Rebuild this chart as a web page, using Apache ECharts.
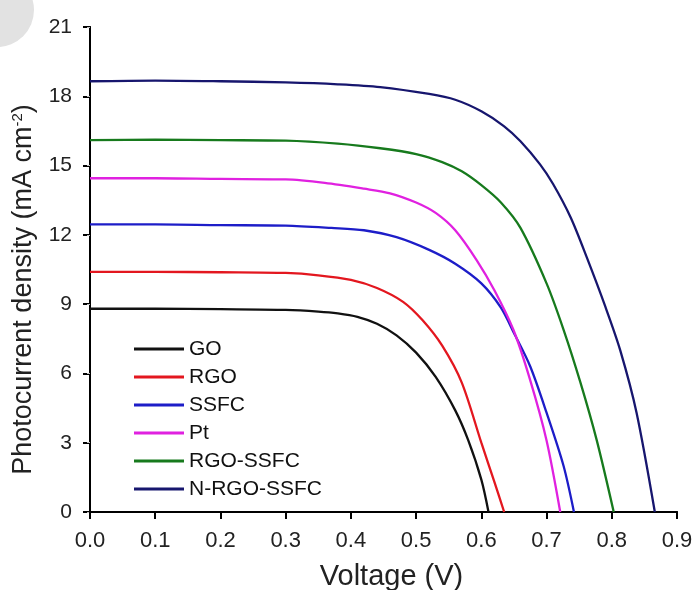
<!DOCTYPE html>
<html>
<head>
<meta charset="utf-8">
<script src="https://cdn.jsdelivr.net/npm/echarts@6/dist/echarts.min.js"></script>
<style>
  html, body { margin: 0; padding: 0; background: #fff; }
  #chart { width: 692px; height: 590px; }
</style>
</head>
<body>
<div id="chart"></div>
<script>
// J-V curves
var names = ['GO', 'RGO', 'SSFC', 'Pt', 'RGO-SSFC', 'N-RGO-SSFC'];
var colors = ['#111111', '#e3171f', '#1d1dc8', '#e021e0', '#177a1d', '#17166e'];

var goV = [0, 0.1, 0.2, 0.3, 0.35, 0.38, 0.41, 0.44, 0.47, 0.5, 0.53, 0.56, 0.58, 0.6, 0.611];
var goJ = [8.8, 8.8, 8.78, 8.75, 8.68, 8.6, 8.45, 8.15, 7.65, 6.9, 5.85, 4.4, 3.1, 1.4, 0];

var rgoV = [0, 0.1, 0.2, 0.3, 0.35, 0.4, 0.44, 0.48, 0.51, 0.54, 0.57, 0.6, 0.62, 0.635];
var rgoJ = [10.4, 10.4, 10.38, 10.35, 10.25, 10.05, 9.7, 9.1, 8.3, 7.2, 5.6, 3.0, 1.3, 0];

var ssfcV = [0, 0.1, 0.2, 0.3, 0.37, 0.42, 0.47, 0.52, 0.56, 0.6, 0.63, 0.65, 0.675, 0.7, 0.726, 0.742];
var ssfcJ = [12.45, 12.45, 12.42, 12.4, 12.3, 12.2, 11.9, 11.35, 10.75, 9.9, 8.85, 7.75, 6.3, 4.3, 2.0, 0];

var ptV = [0, 0.1, 0.2, 0.3, 0.36, 0.42, 0.46, 0.5, 0.53, 0.56, 0.593, 0.62, 0.649, 0.675, 0.7, 0.721];
var ptJ = [14.45, 14.45, 14.42, 14.4, 14.25, 14.0, 13.8, 13.4, 12.95, 12.2, 10.9, 9.6, 7.9, 5.7, 3.1, 0];

var rgoSsfcV = [0, 0.1, 0.2, 0.3, 0.38, 0.445, 0.5, 0.54, 0.57, 0.6, 0.63, 0.66, 0.7, 0.726, 0.752, 0.777, 0.803];
var rgoSsfcJ = [16.1, 16.12, 16.1, 16.08, 15.95, 15.75, 15.5, 15.15, 14.75, 14.15, 13.4, 12.3, 9.9, 7.9, 5.6, 3.1, 0];

var nrgoV = [0, 0.1, 0.2, 0.3, 0.38, 0.445, 0.52, 0.56, 0.6, 0.635, 0.66, 0.69, 0.71, 0.737, 0.762, 0.79, 0.813, 0.838, 0.866];
var nrgoJ = [18.65, 18.68, 18.65, 18.6, 18.52, 18.4, 18.1, 17.85, 17.35, 16.7, 16.05, 15.05, 14.2, 12.75, 11.0, 8.9, 7.0, 4.3, 0];

var voltages = [goV, rgoV, ssfcV, ptV, rgoSsfcV, nrgoV];
var currents = [goJ, rgoJ, ssfcJ, ptJ, rgoSsfcJ, nrgoJ];

function pairs(v, j) {
  return v.map(function (x, i) { return [x, j[i]]; });
}

var chart = echarts.init(document.getElementById('chart'));

var series = names.map(function (name, i) {
  return {
    name: name,
    type: 'line',
    smooth: 0.3,
    symbol: 'none',
    color: colors[i],
    lineStyle: { width: 2.3, color: colors[i] },
    data: pairs(voltages[i], currents[i])
  };
});

var font = 'Liberation Sans, Arial, sans-serif';

var option = {
  animation: false,
  backgroundColor: '#fff',
  grid: { left: 90, right: 15, top: 27, bottom: 78, outerBoundsMode: 'none' },
  legend: {
    orient: 'vertical',
    left: 129,
    top: 333,
    icon: 'rect',
    itemWidth: 50,
    itemHeight: 3,
    itemGap: 6,
    textStyle: { fontFamily: font, fontSize: 21, color: '#111', lineHeight: 22 },
    data: names
  },
  graphic: [{
    type: 'circle',
    shape: { cx: -3, cy: 10, r: 37 },
    style: { fill: '#e2e2e2' },
    silent: true
  }],
  xAxis: [{
    type: 'value',
    min: 0,
    max: 0.9,
    interval: 0.1,
    name: 'Voltage (V)',
    nameLocation: 'middle',
    nameGap: 50,
    nameTextStyle: { fontFamily: font, fontSize: 29, color: '#222', padding: [0, 0, 0, 16] },
    axisLine: { show: true, onZero: false, lineStyle: { color: '#000', width: 2 } },
    axisTick: { show: true, length: 7, lineStyle: { color: '#000', width: 2 } },
    axisLabel: {
      fontFamily: font, fontSize: 22, color: '#222', margin: 18,
      formatter: function (v) { return v.toFixed(1); }
    },
    splitLine: { show: false }
  }, {
    type: 'value',
    position: 'top',
    min: 0,
    max: 0.9,
    axisLine: { show: true, lineStyle: { color: '#000', width: 2 } },
    axisTick: { show: false },
    axisLabel: { show: false },
    splitLine: { show: false }
  }],
  yAxis: [{
    type: 'value',
    min: 0,
    max: 21,
    interval: 3,
    name: '{a|Photocurrent density (mA cm}{s|-2}{a|)}',
    nameLocation: 'middle',
    nameGap: 52,
    nameTextStyle: {
      padding: [0, 40, 0, 0],
      rich: {
        a: { fontFamily: font, fontSize: 27, color: '#222' },
        s: { fontFamily: font, fontSize: 15, color: '#222', verticalAlign: 'top', padding: [0, 0, 13, 0] }
      }
    },
    axisLine: { show: true, onZero: false, lineStyle: { color: '#000', width: 2 } },
    axisTick: { show: true, length: 7, lineStyle: { color: '#000', width: 2 } },
    axisLabel: { fontFamily: font, fontSize: 21, color: '#222', margin: 18 },
    splitLine: { show: false }
  }, {
    type: 'value',
    position: 'right',
    min: 0,
    max: 21,
    interval: 3,
    axisLine: { show: true, lineStyle: { color: '#000', width: 2 } },
    axisTick: { show: true, inside: true, length: 3, lineStyle: { color: '#bbb', width: 1 } },
    axisLabel: { show: false },
    splitLine: { show: false }
  }],
  series: series
};

chart.setOption(option);
</script>
</body>
</html>
